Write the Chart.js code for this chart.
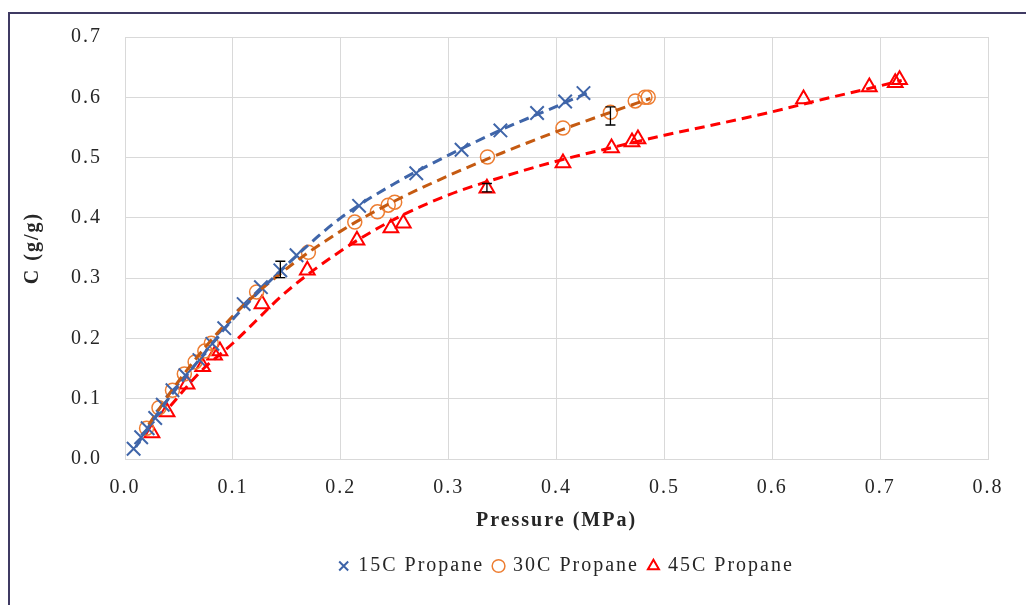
<!DOCTYPE html>
<html>
<head>
<meta charset="utf-8">
<script src="https://cdn.jsdelivr.net/npm/chart.js@4.4.1/dist/chart.umd.min.js"></script>
<style>
  html, body { margin: 0; padding: 0; background: #fff; }
</style>
</head>
<body>
<canvas id="myChart" width="1026" height="605"></canvas>
<script>
// measured uptake, pressure in MPa, C in g/g
const p15 = [0.008, 0.015, 0.021, 0.028, 0.035, 0.044, 0.056, 0.069, 0.081, 0.092, 0.110,
  0.126, 0.144, 0.159, 0.217, 0.270, 0.312, 0.348, 0.382, 0.408, 0.425];
const c15 = [0.017, 0.036, 0.051, 0.068, 0.090, 0.114, 0.139, 0.164, 0.191, 0.217, 0.257,
  0.285, 0.313, 0.338, 0.420, 0.474, 0.513, 0.545, 0.574, 0.593, 0.607];

const p30 = [0.020, 0.0315, 0.044, 0.055, 0.065, 0.074, 0.080, 0.122, 0.170, 0.213, 0.234,
  0.244, 0.250, 0.336, 0.406, 0.450, 0.473, 0.482, 0.485];
const c30 = [0.051, 0.085, 0.114, 0.141, 0.161, 0.179, 0.192, 0.277, 0.343, 0.393, 0.410,
  0.421, 0.426, 0.501, 0.549, 0.575, 0.594, 0.600, 0.600];

const p45 = [0.025, 0.039, 0.0575, 0.072, 0.083, 0.088, 0.127, 0.169, 0.215, 0.2465, 0.258,
  0.3355, 0.406, 0.451, 0.470, 0.4755, 0.629, 0.690, 0.714, 0.718];
const c45 = [0.043, 0.078, 0.124, 0.153, 0.172, 0.179, 0.257, 0.313, 0.363, 0.383, 0.391,
  0.449, 0.491, 0.516, 0.526, 0.531, 0.597, 0.617, 0.624, 0.629];

// fitted trend curves
const t15x = [0.010, 0.030, 0.060, 0.100, 0.150, 0.200, 0.250, 0.300, 0.350, 0.400, 0.428];
const t15y = [0.020, 0.075, 0.145, 0.232, 0.322, 0.400, 0.457, 0.504, 0.547, 0.585, 0.607];

const t30x = [0.022, 0.050, 0.100, 0.150, 0.200, 0.250, 0.300, 0.350, 0.400, 0.450, 0.487];
const t30y = [0.057, 0.130, 0.237, 0.316, 0.378, 0.428, 0.470, 0.508, 0.543, 0.575, 0.598];

const t45x = [0.042, 0.070, 0.100, 0.150, 0.200, 0.250, 0.300, 0.350, 0.400, 0.450, 0.500,
  0.550, 0.600, 0.650, 0.700, 0.720];
const t45y = [0.088, 0.145, 0.192, 0.278, 0.345, 0.398, 0.438, 0.468, 0.494, 0.516, 0.537,
  0.556, 0.576, 0.598, 0.619, 0.628];

// error bars: point index in each series, low and high values
const errIndex = [12, 15, 11];
const errLow = [0.301, 0.554, 0.443];
const errHigh = [0.328, 0.584, 0.457];

const seriesLabels = ["15C Propane", "30C Propane", "45C Propane"];

const FONT = "'Liberation Serif', 'Times New Roman', serif";
const TEXT = "#262626";
const GRID = "#d9d9d9";

const toPoints = (xs, ys) => xs.map((v, i) => ({ x: v, y: ys[i] }));

const markerSets = [
  { xs: p15, ys: c15, color: "#3f65a9", style: "crossRot", radius: 9.5, width: 2 },
  { xs: p30, ys: c30, color: "#ed7d31", style: "circle", radius: 7, width: 1.5 },
  { xs: p45, ys: c45, color: "#ff0000", style: "triangle", radius: 8.5, width: 2 },
];
const trendSets = [
  { xs: t15x, ys: t15y, color: "#3f65a9" },
  { xs: t30x, ys: t30y, color: "#c55a11" },
  { xs: t45x, ys: t45y, color: "#ff0000" },
];

const datasets = [];
markerSets.forEach((s, i) => {
  datasets.push({
    label: seriesLabels[i],
    data: toPoints(s.xs, s.ys),
    showLine: false,
    pointStyle: s.style,
    pointRadius: s.radius,
    pointBorderWidth: s.width,
    borderColor: s.color,
    backgroundColor: "rgba(0,0,0,0)",
    order: 1,
  });
});
trendSets.forEach((s, i) => {
  datasets.push({
    label: seriesLabels[i] + " trend",
    data: toPoints(s.xs, s.ys),
    showLine: true,
    borderColor: s.color,
    borderWidth: 3,
    borderDash: [10, 6],
    pointRadius: 0,
    cubicInterpolationMode: "monotone",
    fill: false,
    order: 0,
  });
});

// outer chart frame and white background
const framePlugin = {
  id: "frame",
  beforeLayout(chart) {
    chart.ctx.letterSpacing = "2px";
  },
  beforeDraw(chart) {
    const ctx = chart.ctx;
    ctx.letterSpacing = "2px";
    ctx.save();
    ctx.fillStyle = "#fff";
    ctx.fillRect(0, 0, chart.width, chart.height);
    ctx.strokeStyle = "#3f3a63";
    ctx.lineWidth = 2;
    ctx.beginPath();
    ctx.moveTo(9, chart.height + 5);
    ctx.lineTo(9, 13);
    ctx.lineTo(chart.width + 5, 13);
    ctx.stroke();
    ctx.restore();
  },
  afterLayout(chart) {
    // legend sits a little right of the plot centre
    const lg = chart.legend;
    const target = (chart.chartArea.left + chart.chartArea.right) / 2 + 10;
    const dx = target - (lg.left + lg.right) / 2;
    lg.left += dx;
    lg.right += dx;
  },
};

const errorBarPlugin = {
  id: "errorBars",
  afterDatasetsDraw(chart) {
    const { ctx, scales } = chart;
    ctx.save();
    ctx.strokeStyle = "#000";
    ctx.lineWidth = 1.3;
    errIndex.forEach((idx, i) => {
      const px = scales.x.getPixelForValue(markerSets[i].xs[idx]);
      const top = scales.y.getPixelForValue(errHigh[i]);
      const bot = scales.y.getPixelForValue(errLow[i]);
      ctx.beginPath();
      ctx.moveTo(px, top);
      ctx.lineTo(px, bot);
      ctx.moveTo(px - 5, top);
      ctx.lineTo(px + 5, top);
      ctx.moveTo(px - 5, bot);
      ctx.lineTo(px + 5, bot);
      ctx.stroke();
    });
    ctx.restore();
  },
};

const ctx = document.getElementById("myChart").getContext("2d");
const myChart = new Chart(ctx, {
  type: "scatter",
  data: { datasets: datasets },
  plugins: [framePlugin, errorBarPlugin],
  options: {
    responsive: false,
    animation: false,
    layout: { padding: { left: 14, right: 38, top: 37, bottom: 19 } },
    plugins: {
      tooltip: { enabled: false },
      legend: {
        position: "bottom",
        labels: {
          usePointStyle: true,
          boxWidth: 9,
          boxHeight: 9,
          padding: 10,
          color: TEXT,
          font: { family: FONT, size: 20 },
          filter: (item) => item.datasetIndex < 3,
        },
      },
    },
    scales: {
      x: {
        type: "linear",
        min: 0,
        max: 0.8,
        afterFit(scale) {
          scale.height = 87;
        },
        ticks: {
          stepSize: 0.1,
          padding: 17,
          color: TEXT,
          font: { family: FONT, size: 20 },
          callback: (v) => v.toFixed(1),
        },
        grid: { color: GRID, lineWidth: 1, drawTicks: false },
        border: { color: GRID },
        title: {
          display: true,
          text: "Pressure (MPa)",
          color: TEXT,
          font: { family: FONT, size: 20, weight: "bold" },
          padding: { top: 0, bottom: 13 },
        },
      },
      y: {
        type: "linear",
        min: 0,
        max: 0.7,
        afterFit(scale) {
          scale.width = 111;
        },
        ticks: {
          stepSize: 0.1,
          padding: 23,
          color: TEXT,
          font: { family: FONT, size: 20 },
          callback: (v) => v.toFixed(1),
        },
        grid: { color: GRID, lineWidth: 1, drawTicks: false },
        border: { color: GRID },
        title: {
          display: true,
          text: "C (g/g)",
          color: TEXT,
          font: { family: FONT, size: 20, weight: "bold" },
          padding: { top: 7, bottom: 0 },
        },
      },
    },
  },
});
</script>
</body>
</html>
